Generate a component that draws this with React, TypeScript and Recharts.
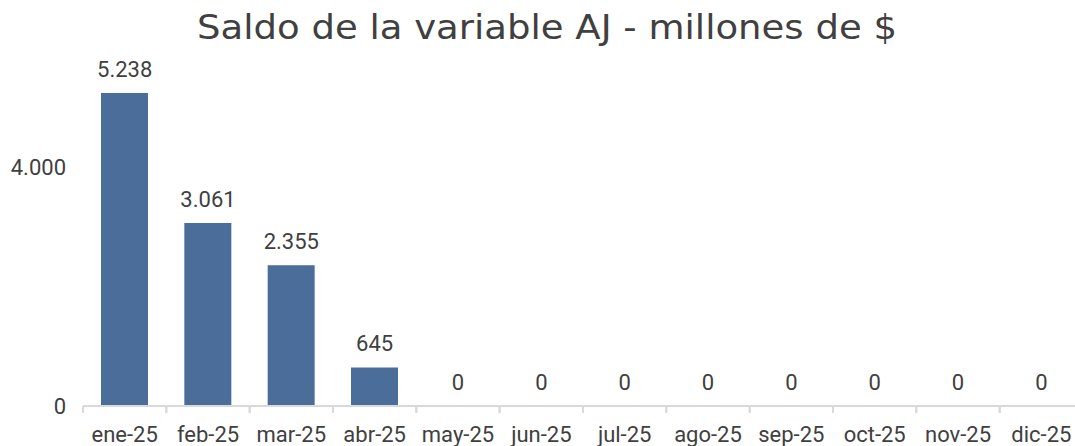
import React from 'react';
import { ComposedChart, Bar, Line, XAxis, YAxis, LabelList } from 'recharts';

const categories = ['ene-25', 'feb-25', 'mar-25', 'abr-25', 'may-25', 'jun-25', 'jul-25', 'ago-25', 'sep-25', 'oct-25', 'nov-25', 'dic-25'];
const saldo = [5238, 3061, 2355, 645, 0, 0, 0, 0, 0, 0, 0, 0];
const yTicks = [0, 4000];
const title = 'Saldo de la variable AJ - millones de $';

const data = categories.map((c, i) => ({ name: c, value: saldo[i] }));

const fmt = (v: any) => String(v).replace(/\B(?=(\d{3})+(?!\d))/g, '.');

const NUM_FONT = 'Roboto, "Noto Sans", sans-serif';
const TXT = '#404040';
const GRID = '#d9d9d9';

const CHART_W = 1100;
const LEFT = 83;
const RIGHT = 17;
const BAND = (CHART_W - LEFT - RIGHT) / categories.length;

const CatTick = (props: any) => {
  const { x, y, payload } = props;
  const axisY = y - 6 - 14;
  return (
    <g>
      <line x1={x - BAND / 2} x2={x - BAND / 2} y1={axisY} y2={axisY + 7} stroke={GRID} strokeWidth={2} />
      <line x1={x + BAND / 2} x2={x + BAND / 2} y1={axisY} y2={axisY + 7} stroke={GRID} strokeWidth={2} />
      <text x={x} y={y} dy="0.71em" textAnchor="middle" fill={TXT} fontSize={22} fontFamily={NUM_FONT}>
        {payload.value}
      </text>
    </g>
  );
};

export default function App() {
  return (
    <div style={{ position: 'absolute', left: 0, top: 0, width: 1075, height: 446, overflow: 'hidden', background: '#fff' }}>
      <svg width={1075} height={60} style={{ position: 'absolute', left: 0, top: 0 }}>
        <text
          x={197}
          y={39}
          textLength={700}
          lengthAdjust="spacingAndGlyphs"
          fontFamily='"DejaVu Sans", sans-serif'
          fontSize={33}
          fill={TXT}
        >
          {title}
        </text>
      </svg>
      <div style={{ position: 'absolute', left: 0, top: 0 }}>
        <ComposedChart
          width={CHART_W}
          height={446}
          data={data}
          margin={{ top: 47.5, right: RIGHT, bottom: 0, left: 0 }}
          barSize={47}
        >
          <XAxis
            dataKey="name"
            axisLine={{ stroke: GRID, strokeWidth: 2 }}
            tickLine={false}
            tickSize={6}
            tickMargin={14}
            interval={0}
            height={40}
            tick={<CatTick />}
          />
          <YAxis
            domain={[0, 6000]}
            ticks={yTicks}
            axisLine={false}
            tickLine={false}
            tickSize={6}
            tickMargin={11}
            width={LEFT}
            tickFormatter={fmt}
            tick={{ fill: TXT, fontSize: 22, fontFamily: NUM_FONT }}
          />
          <Bar dataKey="value" fill="#4a6d9a" isAnimationActive={false} />
          <Line dataKey="value" stroke="none" dot={false} activeDot={false} isAnimationActive={false}>
            <LabelList
              dataKey="value"
              position="top"
              offset={16}
              formatter={fmt}
              fill={TXT}
              fontSize={22}
              fontFamily={NUM_FONT}
            />
          </Line>
        </ComposedChart>
      </div>
    </div>
  );
}
